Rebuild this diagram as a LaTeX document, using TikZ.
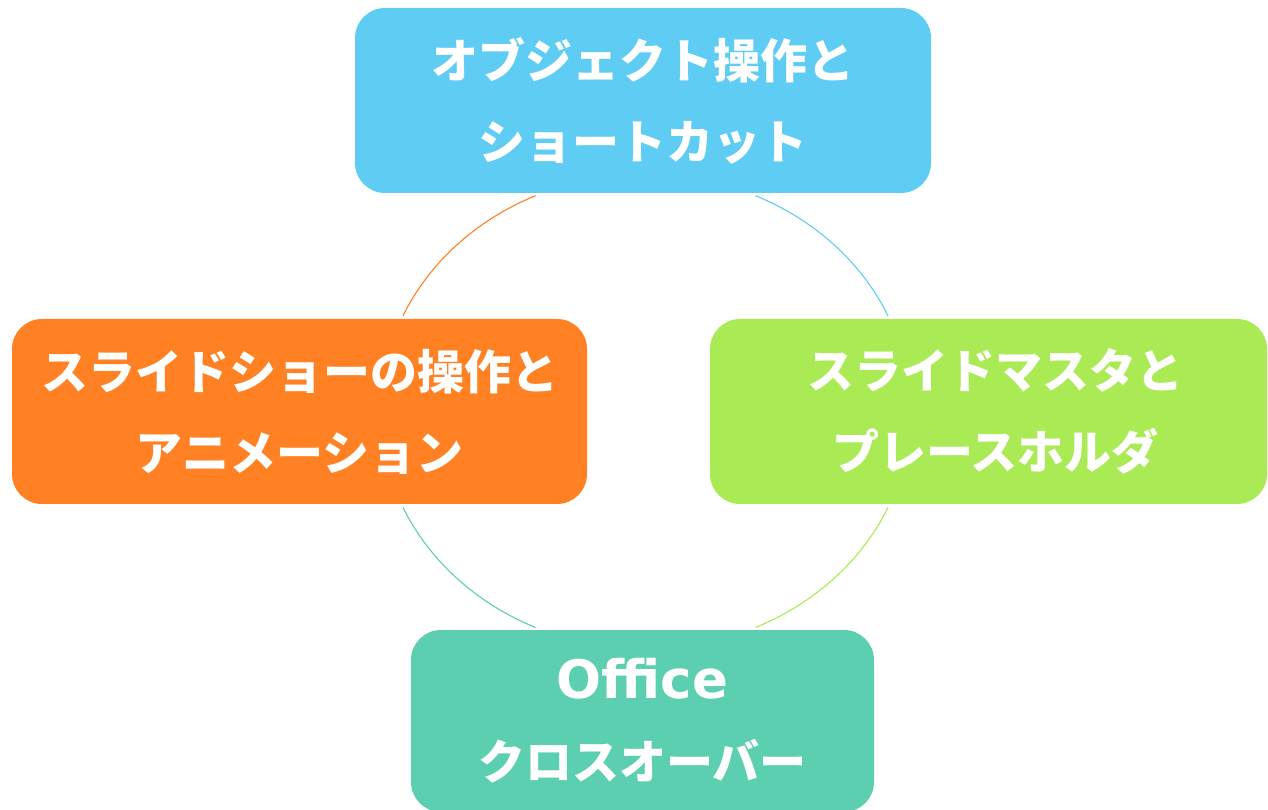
\documentclass[tikz,border=0pt]{standalone}
\usepackage{fontspec}
\usetikzlibrary{calc}
\newfontfamily\jpfont{Noto Sans CJK JP}
\newfontfamily\latfont{DejaVu Sans}
\definecolor{cyanbox}{HTML}{5FCCF4}
\definecolor{orangebox}{HTML}{FF8123}
\definecolor{greenbox}{HTML}{AAEA55}
\definecolor{tealbox}{HTML}{5DCFB1}
\tikzset{
  card/.style={rounded corners=30pt, inner sep=0pt, text=white, align=center,
    font=\jpfont\bfseries\fontsize{47}{81}\selectfont},
  ring/.style={line width=1.1pt}
}
\begin{document}
\begin{tikzpicture}[x=1pt,y=1pt]
\useasboundingbox (0,0) rectangle (1268,809);
\node[card, fill=cyanbox, minimum width=576pt, minimum height=185pt] (top) at (643,708.5)
  {オブジェクト操作と\\ショートカット};
\node[card, fill=orangebox, minimum width=575pt, minimum height=185pt] (left) at (299.5,397.5)
  {スライドショーの操作と\\アニメーション};
\node[card, fill=greenbox, minimum width=557pt, minimum height=185pt] (right) at (988.5,397.5)
  {\hspace*{14pt}スライドマスタと\\\hspace*{14pt}プレースホルダ};
\node[card, fill=tealbox, minimum width=463pt, minimum height=182pt] (bottom) at (642.5,88)
  {{\latfont\bfseries\fontsize{53}{81}\selectfont Office}\\クロスオーバー};
\coordinate (c) at (645.5,397.4);
\draw[ring, orangebox] ($(c)+(114.5:265.1 and 237.3)$) arc[start angle=114.5, end angle=156.2, x radius=265.1, y radius=237.3];
\draw[ring, cyanbox] ($(c)+(65.5:265.1 and 237.3)$) arc[start angle=65.5, end angle=23.8, x radius=265.1, y radius=237.3];
\draw[ring, tealbox] ($(c)+(203.8:265.1 and 237.3)$) arc[start angle=203.8, end angle=245.5, x radius=265.1, y radius=237.3];
\draw[ring, greenbox] ($(c)+(294.5:265.1 and 237.3)$) arc[start angle=294.5, end angle=336.2, x radius=265.1, y radius=237.3];
\end{tikzpicture}
\end{document}
